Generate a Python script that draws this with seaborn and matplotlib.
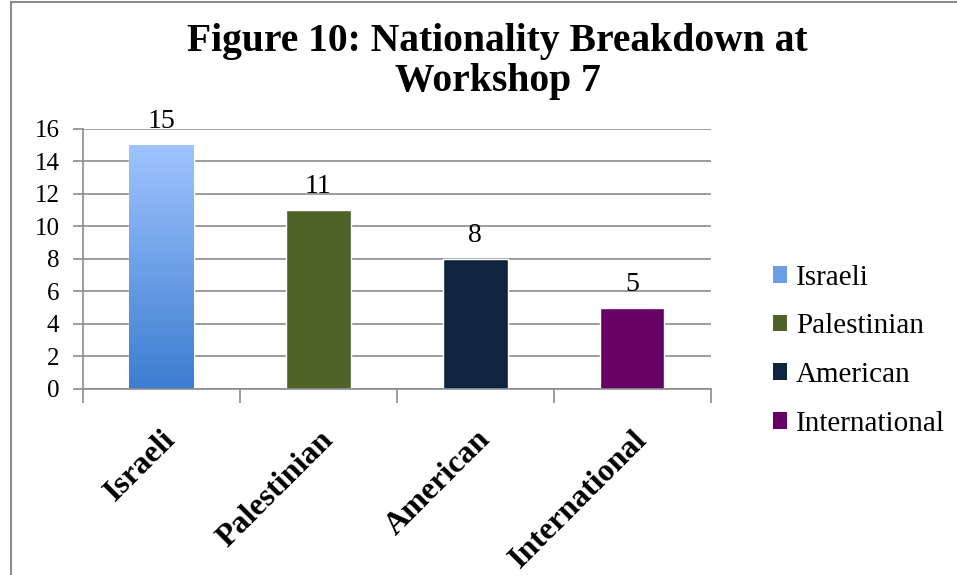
import matplotlib
matplotlib.use('Agg')
import matplotlib.pyplot as plt
import numpy as np
import seaborn as sns
from matplotlib.patches import Patch, Rectangle
from matplotlib.colors import LinearSegmentedColormap
from matplotlib.transforms import ScaledTranslation

categories = ['Israeli', 'Palestinian', 'American', 'International']
counts = [15, 11, 8, 5]
colors = ['#5b93e0', '#4f6228', '#10243f', '#660066']
y_ticks = [0, 2, 4, 6, 8, 10, 12, 14, 16]

sns.set_style('white')
plt.rcParams['font.family'] = ['Liberation Serif', 'DejaVu Serif']
plt.rcParams['text.color'] = 'black'
plt.rcParams['xtick.labelcolor'] = 'black'
plt.rcParams['ytick.labelcolor'] = 'black'

fig = plt.figure(figsize=(9.57, 5.75), dpi=100)
ax = fig.add_axes([0.0867, 0.3235, 0.656, 0.4522])

sns.barplot(x=categories, y=counts, hue=categories, palette=colors,
            width=0.41, legend=False, ax=ax, saturation=1)

# gradient fill on the first bar, like the original
grad = LinearSegmentedColormap.from_list('g', ['#3c7dd0', '#9fc4ff'])
first = ax.patches[0]
x0, y0 = first.get_x(), first.get_y()
w, h = first.get_width(), first.get_height()
im = ax.imshow(np.linspace(0, 1, 256).reshape(-1, 1), cmap=grad, origin='lower',
               extent=[x0, x0 + w, y0, y0 + h], aspect='auto', zorder=first.get_zorder() + 0.1)
im.set_clip_path(first)

ax.set_xlim(-0.5, 3.5)
ax.set_ylim(0, 16)
ax.set_yticks(y_ticks)
ax.yaxis.grid(True, color='#8c8c8c', linewidth=1.2)
ax.set_axisbelow(True)

for c in ax.containers:
    ax.bar_label(c, padding=8, fontsize=20, color='black')

ax.set_xticks(range(len(categories)))
ax.set_xticklabels(categories, rotation=45, ha='right', rotation_mode='anchor',
                   fontsize=23, fontweight='bold')
shift = ScaledTranslation(-8 / 72, 0, fig.dpi_scale_trans)
for lab in ax.get_xticklabels():
    lab.set_transform(lab.get_transform() + shift)
ax.set_xticks(np.arange(-0.5, len(categories), 1.0), minor=True)
ax.tick_params(axis='x', which='major', length=0, pad=26)
ax.tick_params(axis='x', which='minor', length=10, width=1.2, color='#8c8c8c', direction='out', bottom=True)
ax.tick_params(axis='y', length=7, width=1.2, color='#8c8c8c', direction='out', left=True, labelsize=18, pad=10)

for s in ['top', 'right']:
    ax.spines[s].set_visible(False)
for s in ['left', 'bottom']:
    ax.spines[s].set_color('#8c8c8c')
    ax.spines[s].set_linewidth(1.2)

ax.set_xlabel('')
ax.set_ylabel('')

fig.suptitle('Figure 10: Nationality Breakdown at\nWorkshop 7', x=0.52, y=0.96,
             fontsize=28.5, fontweight='bold', linespacing=1.12, color='black')

handles = [Patch(facecolor=('#6a9fe6' if i == 0 else col), edgecolor='none')
           for i, col in enumerate(colors)]
fig.legend(handles, categories, loc='center left', bbox_to_anchor=(0.78, 0.39),
           frameon=False, fontsize=21, handlelength=0.5, handleheight=0.5,
           handletextpad=0.3, labelspacing=0.78)

# outer chart frame, partly cut off at right and bottom
fig.patches.append(Rectangle((0.011, -0.1), 1.1, 1.096, transform=fig.transFigure,
                             fill=False, edgecolor='#8c8c8c', linewidth=1.5))

fig.savefig('out.png', dpi=100)
